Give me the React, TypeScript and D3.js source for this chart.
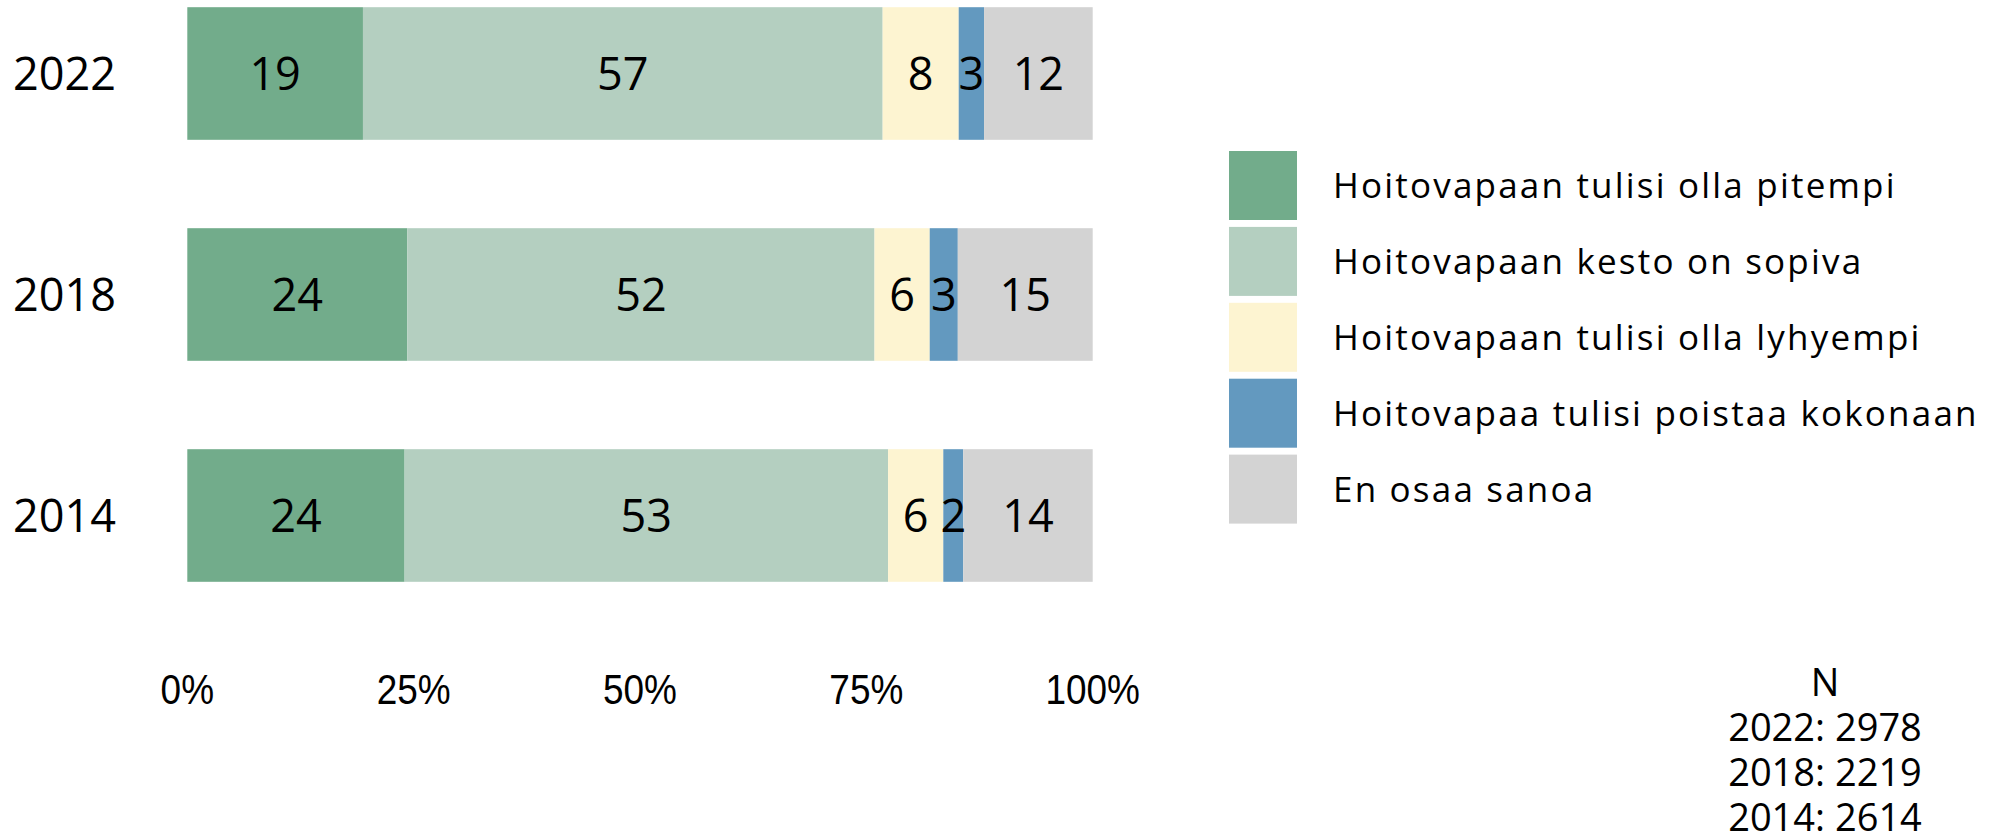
import React, { useEffect, useRef } from 'react';
import * as d3 from 'd3';

const years = ['2022', '2018', '2014'];
const answers = [
  'Hoitovapaan tulisi olla pitempi',
  'Hoitovapaan kesto on sopiva',
  'Hoitovapaan tulisi olla lyhyempi',
  'Hoitovapaa tulisi poistaa kokonaan',
  'En osaa sanoa',
];
const colors = ['#72ac8b', '#b4cfc0', '#fdf4d1', '#6399bf', '#d3d3d3'];
// shares per answer, same order as answers
const values2022 = [19.4, 57.4, 8.4, 2.8, 12.0];
const values2018 = [24.3, 51.6, 6.1, 3.1, 14.9];
const values2014 = [24.0, 53.4, 6.1, 2.2, 14.3];
const xTicks = [0, 0.25, 0.5, 0.75, 1];
const nTitle = 'N';
const sampleSizes = ['2022: 2978', '2018: 2219', '2014: 2614'];

const W = 2000;
const H = 834;
const FONT = "'Open Sans', sans-serif";

const App = () => {
  const svgRef = useRef(null);

  useEffect(() => {
    const svg = d3.select(svgRef.current);
    svg.selectAll('*').remove();

    const rows = [values2022, values2018, values2014].map((vals, i) => {
      const row: any = { year: years[i] };
      answers.forEach((a, j) => (row[a] = vals[j]));
      return row;
    });

    const stack = d3.stack().keys(answers).offset(d3.stackOffsetExpand);
    const series = stack(rows);

    const x = d3.scaleLinear().domain([0, 1]).range([187.3, 1092.7]);
    const y = d3.scaleBand().domain(years).range([-37, 626]).paddingInner(0.4).paddingOuter(0.2);
    const color = d3.scaleOrdinal().domain(answers).range(colors);

    const fs = 45;
    const capShift = fs * 0.357;

    // bars
    const groups = svg.append('g')
      .selectAll('g')
      .data(series)
      .join('g')
      .attr('fill', d => color(d.key) as string);

    groups.selectAll('rect')
      .data(d => d)
      .join('rect')
      .attr('x', d => x(d[0]))
      .attr('y', d => y(d.data.year))
      .attr('width', d => x(d[1]) - x(d[0]))
      .attr('height', y.bandwidth());

    // value labels
    const labels = svg.append('g')
      .attr('font-family', FONT)
      .attr('font-size', fs)
      .attr('fill', '#000')
      .attr('text-anchor', 'middle');

    series.forEach(s => {
      s.forEach((d: any) => {
        const raw = d.data[s.key];
        labels.append('text')
          .attr('x', (x(d[0]) + x(d[1])) / 2)
          .attr('y', y(d.data.year) + y.bandwidth() / 2 + capShift)
          .text(Math.round(raw));
      });
    });

    // year labels
    svg.append('g')
      .attr('font-family', FONT)
      .attr('font-size', fs)
      .attr('text-anchor', 'end')
      .selectAll('text')
      .data(years)
      .join('text')
      .attr('x', 116)
      .attr('y', d => y(d) + y.bandwidth() / 2 + capShift)
      .text(d => d);

    // x axis labels (narrow sans)
    svg.append('g')
      .attr('font-family', "'Liberation Sans', Arial, sans-serif")
      .attr('font-size', 43)
      .attr('text-anchor', 'middle')
      .selectAll('text')
      .data(xTicks)
      .join('text')
      .attr('transform', d => `translate(${x(d)},704) scale(0.86,1)`)
      .text(d => d3.format('.0%')(d));

    // legend
    const ly = d3.scaleBand().domain(answers).range([151, 523.6]).paddingInner(0.091).paddingOuter(0);
    const lfs = 35;
    const legend = svg.append('g');
    legend.selectAll('rect')
      .data(answers)
      .join('rect')
      .attr('x', 1229)
      .attr('y', d => ly(d))
      .attr('width', 68)
      .attr('height', ly.bandwidth())
      .attr('fill', d => color(d) as string);
    legend.selectAll('text')
      .data(answers)
      .join('text')
      .attr('x', 1333)
      .attr('y', d => ly(d) + ly.bandwidth() / 2 + lfs * 0.357)
      .attr('font-family', FONT)
      .attr('font-size', lfs)
      .attr('letter-spacing', 2.2)
      .text(d => d);

    // sample size note
    const nfs = 38;
    svg.append('g')
      .attr('font-family', FONT)
      .attr('font-size', nfs)
      .attr('text-anchor', 'middle')
      .selectAll('text')
      .data([nTitle, ...sampleSizes])
      .join('text')
      .attr('x', 1825)
      .attr('y', (d, i) => 696 + i * 45)
      .text(d => d);
  }, []);

  return (
    <svg
      ref={svgRef}
      width={W}
      height={H}
      style={{ position: 'absolute', left: 0, top: 0, background: '#fff' }}
    />
  );
};

export default App;
